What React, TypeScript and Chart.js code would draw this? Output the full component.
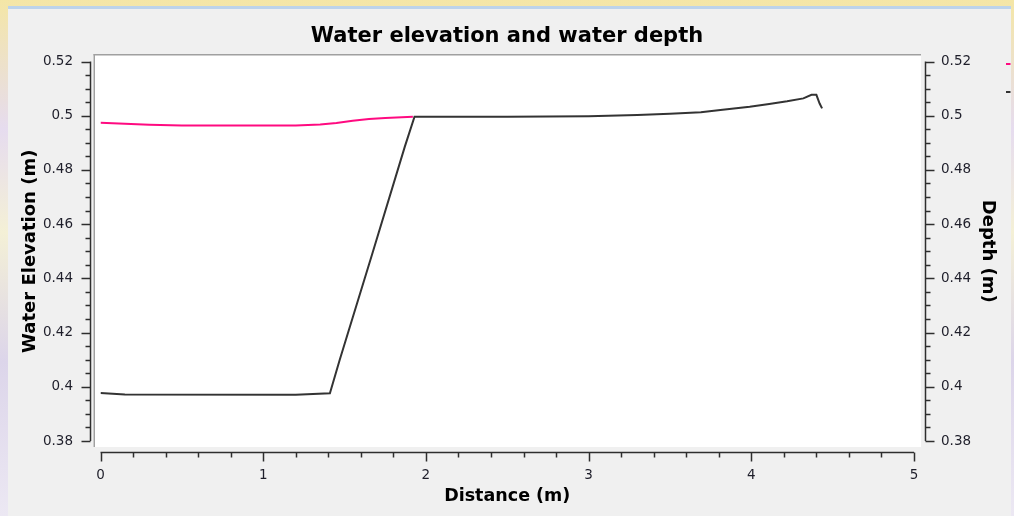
import React, { useEffect, useRef } from 'react';
import { Chart, registerables } from 'chart.js';

Chart.register(...registerables);

// ---- Data ----
const elevationDistance = [0, 0.3, 0.5, 1.2, 1.35, 1.45, 1.55, 1.65, 1.75, 1.92];
const elevationValues = [0.4974, 0.4967, 0.4964, 0.4964, 0.4968, 0.4973, 0.4981, 0.4988, 0.4992, 0.4996];

const depthDistance = [0, 0.15, 1.2, 1.41, 1.47, 1.67, 1.87, 1.93, 2.5, 3.0, 3.3, 3.5, 3.69, 3.81, 3.99, 4.11, 4.22, 4.32, 4.37, 4.4, 4.42, 4.435];
const depthValues = [0.3977, 0.3972, 0.3971, 0.3976, 0.4099, 0.449, 0.4885, 0.4996, 0.4996, 0.4998, 0.5003, 0.5007, 0.5013, 0.5021, 0.5033, 0.5043, 0.5053, 0.5064, 0.5077, 0.5077, 0.5045, 0.5027];

const xTickValues = [0, 1, 2, 3, 4, 5];
const yTickValues = [0.38, 0.4, 0.42, 0.44, 0.46, 0.48, 0.5, 0.52];
const xMinorStep = 0.2;
const yMinorStep = 0.005;

const chartTitle = 'Water elevation and water depth';
const xTitle = 'Distance (m)';
const yLeftTitle = 'Water Elevation (m)';
const yRightTitle = 'Depth (m)';
const seriesNames = ['Water elevation', 'Depth'];

const FONT = '"DejaVu Sans", "Noto Sans", sans-serif';
const PINK = '#ff0a80';
const DARK = '#333333';

function drawAxisTicks(ctx: CanvasRenderingContext2D, scale: any, fixed: number, dir: number, horizontal: boolean, minorStep: number, majorEvery: number) {
  const min = scale.min, max = scale.max;
  const n = Math.round((max - min) / minorStep);
  const p0 = scale.getPixelForValue(min);
  const p1 = scale.getPixelForValue(max);
  ctx.beginPath();
  if (horizontal) {
    ctx.moveTo(p0, fixed);
    ctx.lineTo(p1, fixed);
  } else {
    ctx.moveTo(fixed, p0);
    ctx.lineTo(fixed, p1);
  }
  for (let i = 0; i <= n; i++) {
    const v = min + i * minorStep;
    const p = Math.round(scale.getPixelForValue(v)) + 0.5;
    const len = i % majorEvery === 0 ? 9 : 5;
    if (horizontal) {
      ctx.moveTo(p, fixed);
      ctx.lineTo(p, fixed + dir * len);
    } else {
      ctx.moveTo(fixed, p);
      ctx.lineTo(fixed + dir * len, p);
    }
  }
  ctx.stroke();
}

const decorPlugin = {
  id: 'decor',
  beforeDraw(chart: any) {
    const { ctx, chartArea: ca } = chart;
    ctx.save();
    const bl = ca.left - 7;
    const bt = ca.top - 7.5;
    const br = ca.right + 7;
    const bb = ca.bottom + 6;
    ctx.fillStyle = '#ffffff';
    ctx.fillRect(bl, bt, br - bl, bb - bt);
    ctx.fillStyle = '#a0a0a0';
    ctx.fillRect(bl, bt, br - bl, 1.5);
    ctx.fillRect(bl, bt, 1.5, bb - bt);

    ctx.strokeStyle = '#2e2e2e';
    ctx.lineWidth = 1.5;
    const xs = chart.scales.x;
    const yl = chart.scales.y;
    const yr = chart.scales.y1;
    drawAxisTicks(ctx, yl, Math.round(ca.left - 10.5) + 0.5, -1, false, yMinorStep, 4);
    drawAxisTicks(ctx, yr, Math.round(ca.right + 11) + 0.5, 1, false, yMinorStep, 4);
    drawAxisTicks(ctx, xs, Math.round(ca.bottom + 11) + 0.5, 1, true, xMinorStep, 5);
    ctx.restore();
  },
  afterDraw(chart: any) {
    const { ctx } = chart;
    const ds = chart.data.datasets;
    ctx.save();
    ctx.lineWidth = 2;
    ds.forEach((d: any, i: number) => {
      ctx.strokeStyle = d.borderColor;
      const y = 64 + i * 28;
      ctx.beginPath();
      ctx.moveTo(chart.width - 8, y);
      ctx.lineTo(chart.width - 3.5, y);
      ctx.stroke();
    });
    ctx.restore();
  },
};

const fmt = (v: number) => String(Number(Number(v).toFixed(4)));

export default function App() {
  const ref = useRef<HTMLCanvasElement>(null);

  useEffect(() => {
    const elevationData = elevationDistance.map((x, i) => ({ x, y: elevationValues[i] }));
    const depthData = depthDistance.map((x, i) => ({ x, y: depthValues[i] }));
    const tickFont = { family: FONT, size: 13.5 };
    const yTitleFont = { family: FONT, size: 18, weight: 'bold' as const };
    const xTitleFont = { family: FONT, size: 17.5, weight: 'bold' as const };

    const chart = new Chart(ref.current as HTMLCanvasElement, {
      type: 'line',
      data: {
        datasets: [
          {
            label: seriesNames[0],
            data: elevationData,
            yAxisID: 'y',
            borderColor: PINK,
            backgroundColor: PINK,
            borderWidth: 2,
            pointRadius: 0,
            tension: 0,
          },
          {
            label: seriesNames[1],
            data: depthData,
            yAxisID: 'y1',
            borderColor: DARK,
            backgroundColor: DARK,
            borderWidth: 2,
            pointRadius: 0,
            tension: 0,
          },
        ],
      },
      plugins: [decorPlugin],
      options: {
        animation: false,
        responsive: false,
        layout: { padding: 0 },
        plugins: {
          legend: { display: false },
          tooltip: { enabled: false },
          title: {
            display: true,
            text: chartTitle,
            color: '#000',
            font: { family: FONT, size: 21, weight: 'bold' },
            padding: { top: 24, bottom: 12.3 },
          },
        },
        scales: {
          x: {
            type: 'linear',
            position: 'bottom',
            min: 0,
            max: 5,
            afterBuildTicks: (s: any) => {
              s.ticks = xTickValues.map((v) => ({ value: v }));
            },
            afterFit: (s: any) => {
              s.height = 75;
            },
            grid: { display: false, drawTicks: false },
            border: { display: false },
            ticks: { padding: 26, font: tickFont, color: '#1e1e2a', maxRotation: 0, autoSkip: false, callback: (v: any) => fmt(v) },
            title: { display: true, text: xTitle, color: '#000', font: xTitleFont, padding: { top: 0, bottom: 9 } },
          },
          y: {
            type: 'linear',
            position: 'left',
            min: 0.38,
            max: 0.52,
            afterBuildTicks: (s: any) => {
              s.ticks = yTickValues.map((v) => ({ value: v }));
            },
            afterFit: (s: any) => {
              s.width = 100.5;
            },
            grid: { display: false, drawTicks: false },
            border: { display: false },
            ticks: { padding: 27.5, font: tickFont, color: '#1e1e2a', autoSkip: false, callback: (v: any) => fmt(v) },
            title: { display: true, text: yLeftTitle, color: '#000', font: yTitleFont, padding: { top: 19.5, bottom: 0 } },
          },
          y1: {
            type: 'linear',
            position: 'right',
            min: 0.38,
            max: 0.52,
            afterBuildTicks: (s: any) => {
              s.ticks = yTickValues.map((v) => ({ value: v }));
            },
            afterFit: (s: any) => {
              s.width = 100;
            },
            grid: { display: false, drawTicks: false },
            border: { display: false },
            ticks: { padding: 27, font: tickFont, color: '#1e1e2a', autoSkip: false, callback: (v: any) => fmt(v) },
            title: { display: true, text: yRightTitle, color: '#000', font: yTitleFont, padding: { top: 16, bottom: 0 } },
          },
        },
      },
    } as any);
    return () => chart.destroy();
  }, []);

  return (
    <div
      style={{
        position: 'absolute',
        left: 0,
        top: 0,
        width: 1014,
        height: 516,
        overflow: 'hidden',
        background: 'linear-gradient(180deg, #f4e6a6 0%, #e6dcef 25%, #f4f0d6 45%, #dcd5ea 70%, #ece8f3 100%)',
      }}
    >
      <div
        style={{
          position: 'absolute',
          left: 8,
          top: 6,
          width: 1003,
          height: 510,
          boxSizing: 'border-box',
          borderTop: '3px solid #bcd3eb',
          background: '#f0f0f0',
        }}
      />
      <canvas ref={ref} width={1014} height={516} style={{ position: 'absolute', left: 0, top: 0, width: 1014, height: 516 }} />
    </div>
  );
}
